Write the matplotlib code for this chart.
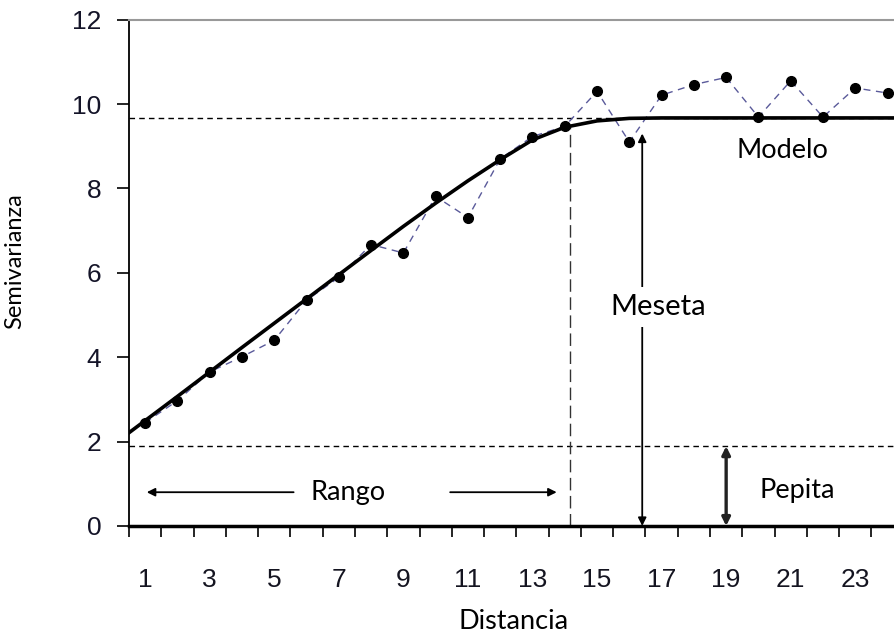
import numpy as np
import matplotlib
matplotlib.use("Agg")
import matplotlib.pyplot as plt

# experimental semivariogram (lag distance vs semivariance)
distancia = np.arange(1, 25)
semivar = [2.45, 2.97, 3.65, 4.01, 4.40, 5.35, 5.89, 6.67, 6.47, 7.81, 7.31, 8.70,
           9.23, 9.47, 10.30, 9.10, 10.21, 10.46, 10.63, 9.69, 10.55, 9.69, 10.38, 10.26]

# fitted model
modelo_x = [0.5, 2, 4, 6, 8, 9, 10, 11, 12, 13, 14, 15, 16, 17, 24.2]
modelo_y = [2.21, 3.07, 4.23, 5.38, 6.53, 7.10, 7.65, 8.18, 8.68, 9.15, 9.45, 9.60, 9.66, 9.67, 9.67]

meseta = 9.67
pepita = 1.89
rango = 14.15

xlabels = [1, 3, 5, 7, 9, 11, 13, 15, 17, 19, 21, 23]
yticks = [0, 2, 4, 6, 8, 10, 12]

ann_font = "Lato"
tick_font = "Liberation Sans"

fig = plt.figure(figsize=(8.94, 6.37), dpi=100)
ax = fig.add_axes([0.1443, 0.1743, 0.8557, 0.7949])

ax.plot(distancia, semivar, linestyle=(0, (5, 4)), color="#5a5a9a", lw=1,
        marker="o", ms=7, mfc="black", mec="black", zorder=3)
ax.plot(modelo_x, modelo_y, color="black", lw=2.6, zorder=4)

# sill and nugget reference lines
ax.axhline(meseta, color="black", lw=1, linestyle=(0, (4, 3)), zorder=2)
ax.axhline(pepita, color="black", lw=1, linestyle=(0, (4, 3)), zorder=2)
ax.plot([rango, rango], [0, 9.47], color="#333333", lw=1, linestyle=(0, (9, 4)), zorder=2)

# arrows
arr = dict(arrowstyle="-|>", color="black", lw=1.3, mutation_scale=12, shrinkA=0, shrinkB=0)
ax.annotate("", xy=(1.05, 0.8), xytext=(5.6, 0.8), arrowprops=arr)
ax.annotate("", xy=(13.75, 0.8), xytext=(10.45, 0.8), arrowprops=arr)
ax.annotate("", xy=(16.4, 0.0), xytext=(16.4, 9.3),
            arrowprops=dict(arrowstyle="<|-|>", color="black", lw=1.3, mutation_scale=12,
                            shrinkA=0, shrinkB=0))
ax.annotate("", xy=(19.0, 0.0), xytext=(19.0, pepita),
            arrowprops=dict(arrowstyle="<|-|>", color="#222222", lw=2.4, mutation_scale=12,
                            shrinkA=0, shrinkB=0))

ax.text(7.3, 0.8, "Rango", fontsize=19.5, family=ann_font, ha="center", va="center")
ax.text(16.9, 5.2, "Meseta", fontsize=21, family=ann_font, ha="center", va="center",
        bbox=dict(facecolor="white", edgecolor="none", pad=5))
ax.text(21.2, 0.85, "Pepita", fontsize=19.5, family=ann_font, ha="center", va="center")
ax.text(20.75, 8.9, "Modelo", fontsize=19.5, family=ann_font, ha="center", va="center")

ax.set_xlim(0.5, 24.2)
ax.set_ylim(0, 12)

ax.set_xticks(np.arange(0.5, 24, 1))
ax.set_xticklabels([])
ax.set_xticks(xlabels, minor=True)
ax.set_xticklabels([str(v) for v in xlabels], minor=True, fontsize=19, family=tick_font,
                   color="#141420")
ax.tick_params(axis="x", which="major", direction="out", length=8, width=1.2)
ax.tick_params(axis="x", which="minor", length=0, pad=30)

ax.set_yticks(yticks)
ax.set_yticklabels([str(v) for v in yticks], fontsize=19, family=tick_font, color="#141428")
ax.tick_params(axis="y", direction="out", length=9, width=1.2, pad=11)

ax.spines["right"].set_visible(False)
ax.spines["top"].set_color("#999999")
ax.spines["top"].set_linewidth(1.5)
ax.spines["left"].set_linewidth(1.3)
ax.spines["bottom"].set_linewidth(2.5)

fig.text(0.017, 0.59, "Semivarianza", rotation=90, fontsize=17, family=ann_font,
         ha="center", va="center")
fig.text(0.574, 0.024, "Distancia", fontsize=19.5, family=ann_font, ha="center", va="center")

fig.savefig("out.png", dpi=100)
